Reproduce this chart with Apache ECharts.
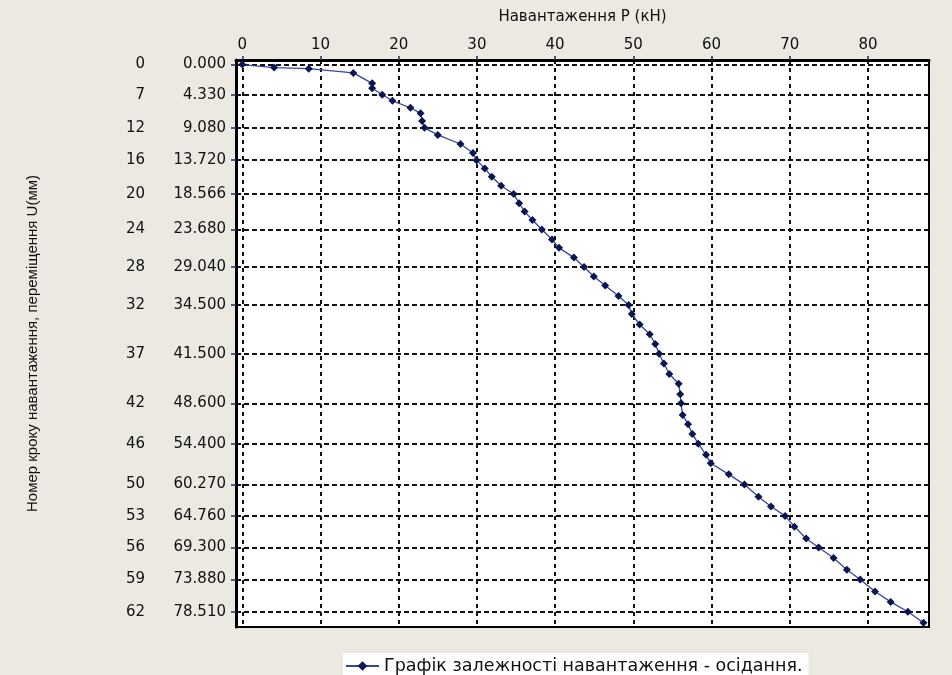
<!DOCTYPE html>
<html>
<head>
<meta charset="utf-8">
<style>
  html, body { margin: 0; padding: 0; background: #ece9e3; }
  #chart { width: 952px; height: 675px; }
</style>
<script src="https://cdn.jsdelivr.net/npm/echarts@6/dist/echarts.min.js"></script>
</head>
<body>
<div id="chart"></div>
<script>
// load P (kN) and displacement U (mm)
const loadP = [0, 4.07, 8.5, 14.2, 16.6, 16.6, 17.9, 19.2, 21.5, 22.8, 23.0, 23.3,
  25.0, 27.9, 29.5, 29.95, 31.0, 31.9, 33.1, 34.7, 35.4, 36.1, 37.1, 38.3,
  39.6, 40.5, 42.4, 43.7, 44.95, 46.4, 48.1, 49.4, 49.8, 50.8, 52.1, 52.8, 53.3,
  53.9, 54.6, 55.8, 56.0, 56.1, 56.3, 57.0, 57.55, 58.3, 59.3, 59.9, 62.2, 64.2,
  66.0, 67.6, 69.4, 70.6, 72.1, 73.7, 75.6, 77.3, 79.0, 80.9, 82.9, 85.1, 87.1]
const settleU = [0, 0.43, 0.6, 1.2, 2.7, 3.4, 4.33, 5.2, 6.2, 7.0, 8.1, 9.08,
  10.1, 11.4, 12.7, 13.72, 14.9, 16.1, 17.4, 18.566, 19.9, 21.1, 22.3, 23.68,
  25.1, 26.3, 27.7, 29.04, 30.4, 31.7, 33.2, 34.5, 35.8, 37.3, 38.7, 40.1, 41.5,
  42.9, 44.4, 45.8, 47.3, 48.6, 50.3, 51.6, 53.0, 54.4, 56.0, 57.2, 58.8, 60.27,
  62.0, 63.4, 64.76, 66.3, 68.0, 69.3, 70.8, 72.5, 73.88, 75.6, 77.1, 78.51, 80.1]

// y axis ticks: step number + displacement
const tickStep = [0, 7, 12, 16, 20, 24, 28, 32, 37, 42, 46, 50, 53, 56, 59, 62]
const tickU = [0, 4.33, 9.08, 13.72, 18.566, 23.68, 29.04, 34.5, 41.5, 48.6, 54.4,
  60.27, 64.76, 69.3, 73.88, 78.51]
const tickP = [0, 10, 20, 30, 40, 50, 60, 70, 80]

const seriesName = 'Графік залежності навантаження - осідання.'
const font = 'DejaVu Sans'

const chart = echarts.init(document.getElementById('chart'))

chart.setOption({
  backgroundColor: '#ece9e3',
  animation: false,
  grid: {
    left: 236,
    right: 23,
    top: 60,
    bottom: 48,
    show: true,
    backgroundColor: '#fff',
    borderColor: '#000',
    borderWidth: 2
  },
  legend: {
    left: 343,
    top: 653,
    backgroundColor: '#fff',
    padding: [4, 6, 6, 2],
    itemWidth: 33,
    itemHeight: 12,
    itemGap: 5,
    textStyle: { fontFamily: font, fontSize: 17.5, color: '#111' },
    data: [seriesName]
  },
  xAxis: {
    type: 'value',
    position: 'top',
    min: -0.8,
    max: 87.8,
    name: 'Навантаження P (кН)',
    nameLocation: 'middle',
    nameGap: 35,
    nameTextStyle: { fontFamily: font, fontSize: 15, color: '#111' },
    axisLine: { show: true, onZero: false, lineStyle: { color: '#000', width: 3 } },
    axisTick: { show: true, length: 4, customValues: tickP, lineStyle: { color: '#1c2a6b', width: 1.5 } },
    axisLabel: { customValues: tickP, margin: 7, fontFamily: font, fontSize: 15, color: '#111' },
    splitLine: { show: true, lineStyle: { color: '#111', width: 2, type: [4, 4] } }
  },
  yAxis: {
    type: 'value',
    inverse: true,
    min: -0.65,
    max: 80.7,
    name: 'Номер кроку навантаження, переміщення U(мм)',
    nameLocation: 'middle',
    nameGap: 196,
    nameTextStyle: { fontFamily: 'Liberation Sans', fontSize: 15, color: '#111' },
    axisLine: { show: true, onZero: false, lineStyle: { color: '#000', width: 3 } },
    axisTick: { show: true, length: 5, customValues: tickU, lineStyle: { color: '#1c2a6b', width: 1.5 } },
    axisLabel: {
      customValues: tickU,
      margin: 10,
      color: '#111',
      formatter: function (v) {
        const i = tickU.findIndex((u) => Math.abs(u - v) < 1e-6)
        return '{n|' + tickStep[i] + '}{v|' + v.toFixed(3) + '}'
      },
      rich: {
        n: { width: 40, align: 'right', fontFamily: font, fontSize: 15, color: '#111' },
        v: { width: 81, align: 'right', fontFamily: font, fontSize: 15, color: '#111' }
      }
    },
    splitLine: { show: true, lineStyle: { color: '#111', width: 2, type: [5, 3] } }
  },
  series: [
    {
      name: seriesName,
      type: 'line',
      data: loadP.map((p, i) => [p, settleU[i]]),
      symbol: 'diamond',
      symbolSize: 8,
      itemStyle: { color: '#0b1552' },
      lineStyle: { color: '#3545a0', width: 1.3 }
    }
  ]
})
</script>
</body>
</html>
